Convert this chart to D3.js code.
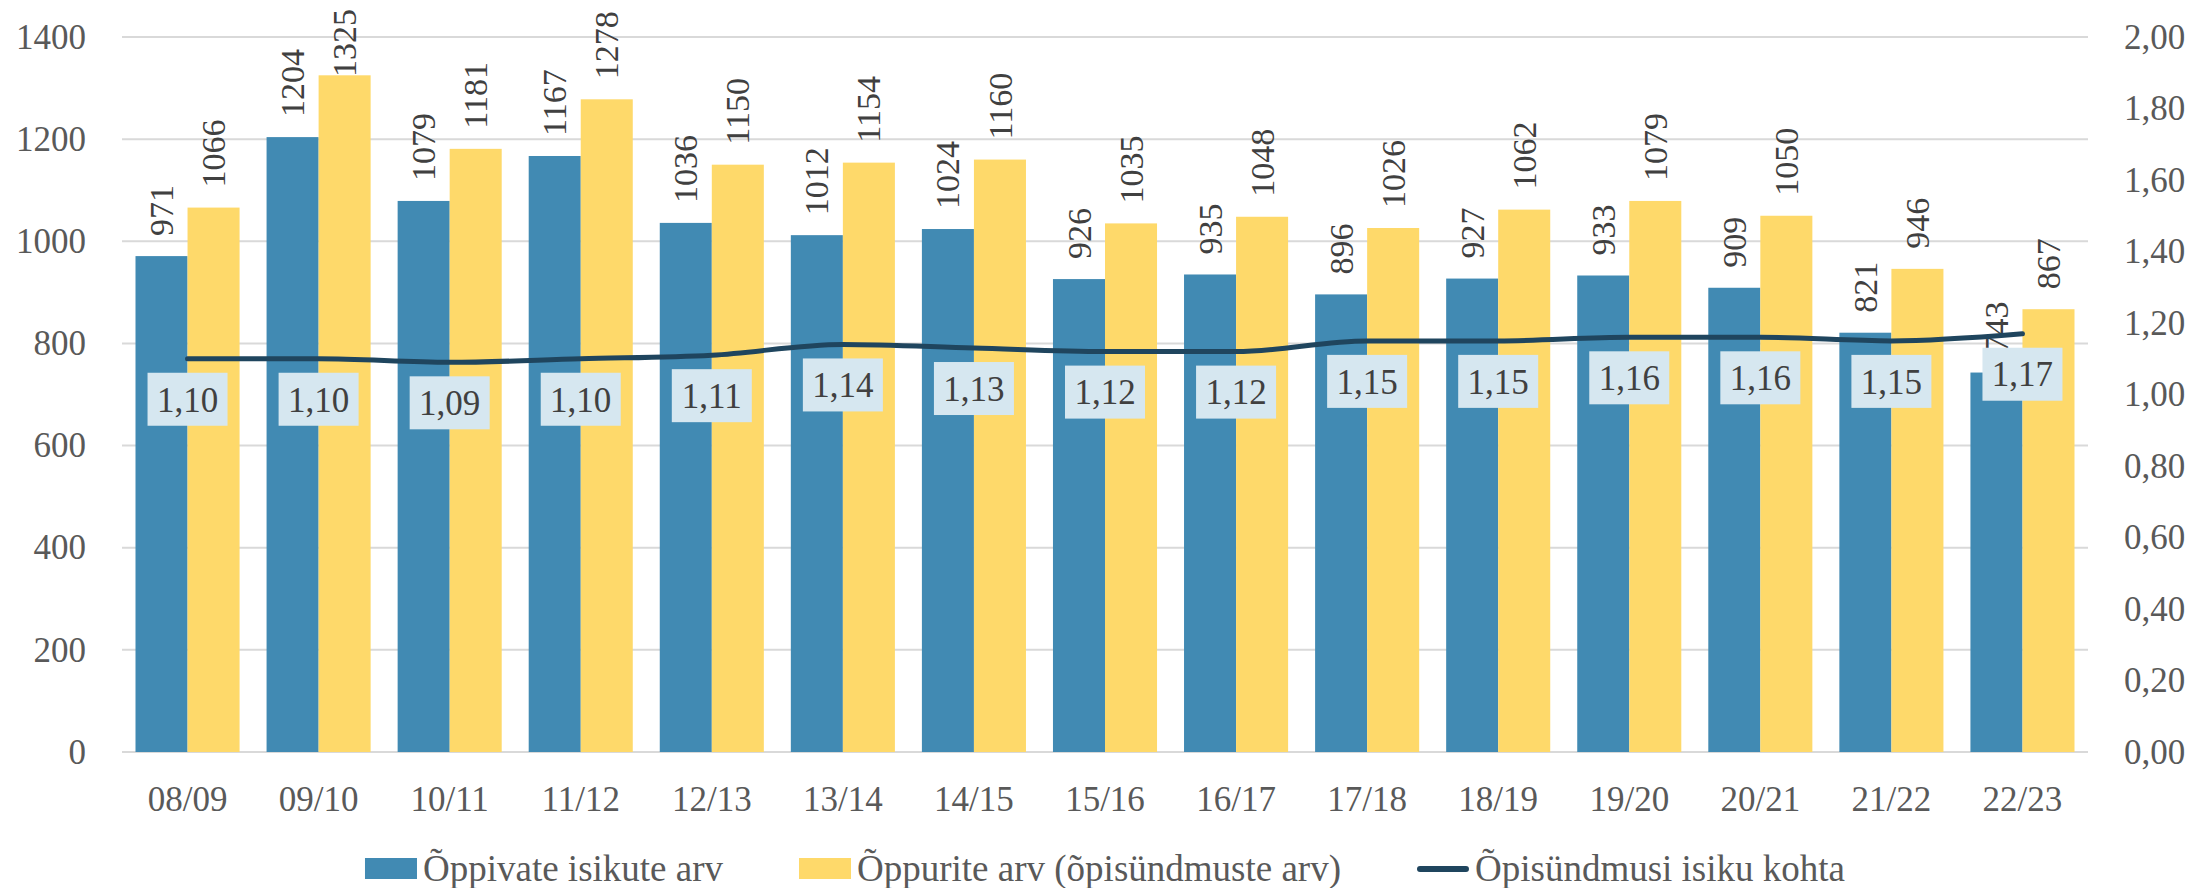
<!DOCTYPE html>
<html>
<head>
<meta charset="utf-8">
<script src="https://cdn.jsdelivr.net/npm/d3@7"></script>
<style>
  body { margin: 0; background: #fff; }
  text { font-family: "Liberation Serif", serif; }
</style>
</head>
<body>
<div id="chart"></div>
<script>
// school years
const years = ["08/09", "09/10", "10/11", "11/12", "12/13", "13/14", "14/15", "15/16", "16/17", "17/18", "18/19", "19/20", "20/21", "21/22", "22/23"];
// learners (persons)
const persons = [971, 1204, 1079, 1167, 1036, 1012, 1024, 926, 935, 896, 927, 933, 909, 821, 743];
// learning events
const events = [1066, 1325, 1181, 1278, 1150, 1154, 1160, 1035, 1048, 1026, 1062, 1079, 1050, 946, 867];
// events per person
const ratio = [1.10, 1.10, 1.09, 1.10, 1.11, 1.14, 1.13, 1.12, 1.12, 1.15, 1.15, 1.16, 1.16, 1.15, 1.17];

const leftTicks = [0, 200, 400, 600, 800, 1000, 1200, 1400];
const rightTicks = [0, 0.2, 0.4, 0.6, 0.8, 1.0, 1.2, 1.4, 1.6, 1.8, 2.0];
const seriesNames = ["Õppivate isikute arv", "Õppurite arv (õpisündmuste arv)", "Õpisündmusi isiku kohta"];

const W = 2191, H = 888;
const plot = { left: 122, right: 2088, top: 37, bottom: 752 };
const BLUE = "#418ab3", YELLOW = "#fed96a", LINE = "#1f455e";
const AXIS_TXT = "#595959", LABEL_TXT = "#404040";
const FONT = "Liberation Serif";

const svg = d3.select("#chart").append("svg")
	.attr("width", W)
	.attr("height", H);

const x = d3.scaleBand()
	.domain(years)
	.range([plot.left, plot.right])
	.paddingInner(0.206)
	.paddingOuter(0.103);

const xInner = d3.scaleBand()
	.domain(["persons", "events"])
	.range([0, x.bandwidth()]);

const y = d3.scaleLinear().domain([0, 1400]).range([plot.bottom, plot.top]);
const y2 = d3.scaleLinear().domain([0, 2]).range([plot.bottom, plot.top]);

// gridlines
svg.append("g")
	.selectAll("line")
	.data(leftTicks)
	.enter()
	.append("line")
	.attr("x1", plot.left)
	.attr("x2", plot.right)
	.attr("y1", d => y(d))
	.attr("y2", d => y(d))
	.attr("stroke", "#d9d9d9")
	.attr("stroke-width", 2);

const styleAxis = g => {
	g.attr("font-family", FONT).attr("font-size", 35);
	g.select(".domain").remove();
	g.selectAll("text").attr("fill", AXIS_TXT);
};

// left axis
svg.append("g")
	.attr("transform", `translate(${plot.left},0)`)
	.call(d3.axisLeft(y).tickValues(leftTicks).tickFormat(d3.format("d")).tickSize(0).tickPadding(36))
	.call(styleAxis);

// right axis
const fmt2 = d => d.toFixed(2).replace(".", ",");
svg.append("g")
	.attr("transform", `translate(${plot.right},0)`)
	.call(d3.axisRight(y2).tickValues(rightTicks).tickFormat(fmt2).tickSize(0).tickPadding(36))
	.call(styleAxis);

// bottom axis
svg.append("g")
	.attr("transform", `translate(0,${plot.bottom})`)
	.call(d3.axisBottom(x).tickSize(0).tickPadding(34))
	.call(styleAxis);

// bars
const barData = years.map((yr, i) => [
	{ yr, key: "persons", v: persons[i], color: BLUE },
	{ yr, key: "events", v: events[i], color: YELLOW },
]).flat();

svg.append("g")
	.selectAll("rect")
	.data(barData)
	.enter()
	.append("rect")
	.attr("x", d => x(d.yr) + xInner(d.key))
	.attr("y", d => y(d.v))
	.attr("width", xInner.bandwidth())
	.attr("height", d => y(0) - y(d.v))
	.attr("fill", d => d.color);

// rotated bar labels
svg.append("g")
	.selectAll("text")
	.data(barData)
	.enter()
	.append("text")
	.text(d => d.v)
	.attr("font-size", 34)
	.attr("fill", LABEL_TXT)
	.attr("text-anchor", "start")
	.attr("dy", "0.34em")
	.each(function (d) {
		const len = this.getComputedTextLength();
		let start = y(d.v) - 20;
		if (start - len < 9) start = 9 + len;
		const cx = x(d.yr) + xInner(d.key) + xInner.bandwidth() / 2;
		d3.select(this).attr("transform", `translate(${cx},${start}) rotate(-90)`);
	});

// ratio line
const lineData = years.map((yr, i) => [x(yr) + x.bandwidth() / 2, y2(ratio[i])]);
svg.append("path")
	.attr("d", d3.line().curve(d3.curveMonotoneX)(lineData))
	.attr("fill", "none")
	.attr("stroke", LINE)
	.attr("stroke-width", 5)
	.attr("stroke-linecap", "round");

// ratio labels in boxes
const ratioLabels = svg.append("g")
	.selectAll("g")
	.data(years.map((yr, i) => ({ yr, v: ratio[i] })))
	.enter()
	.append("g")
	.attr("transform", d => `translate(${x(d.yr) + x.bandwidth() / 2},${y2(d.v) + 14})`);

ratioLabels.append("rect")
	.attr("x", -40)
	.attr("y", 0)
	.attr("width", 80)
	.attr("height", 53)
	.attr("fill", "#d6e7f0");

ratioLabels.append("text")
	.text(d => fmt2(d.v))
	.attr("x", 0)
	.attr("y", 26.5)
	.attr("dy", "0.35em")
	.attr("text-anchor", "middle")
	.attr("font-size", 35)
	.attr("fill", LABEL_TXT);

// legend
const legend = svg.append("g");
const legendY = 869;
const swatchW = 52, swatchGap = 6, itemGap = 76;
let cursor = 0;
seriesNames.forEach((name, i) => {
	const g = legend.append("g").attr("transform", `translate(${cursor},0)`);
	if (i < 2) {
		g.append("rect")
			.attr("x", 0)
			.attr("y", legendY - 11)
			.attr("width", swatchW)
			.attr("height", 21)
			.attr("fill", i === 0 ? BLUE : YELLOW);
	} else {
		g.append("line")
			.attr("x1", 3)
			.attr("x2", swatchW - 3)
			.attr("y1", legendY)
			.attr("y2", legendY)
			.attr("stroke", LINE)
			.attr("stroke-width", 6)
			.attr("stroke-linecap", "round");
	}
	const t = g.append("text")
		.text(name)
		.attr("x", swatchW + swatchGap)
		.attr("y", legendY)
		.attr("dy", "0.33em")
		.attr("font-size", 37)
		.attr("fill", AXIS_TXT);
	cursor += swatchW + swatchGap + t.node().getComputedTextLength() + itemGap;
});
const legendW = cursor - itemGap;
legend.attr("transform", `translate(${(plot.left + plot.right) / 2 - legendW / 2},0)`);
</script>
</body>
</html>
